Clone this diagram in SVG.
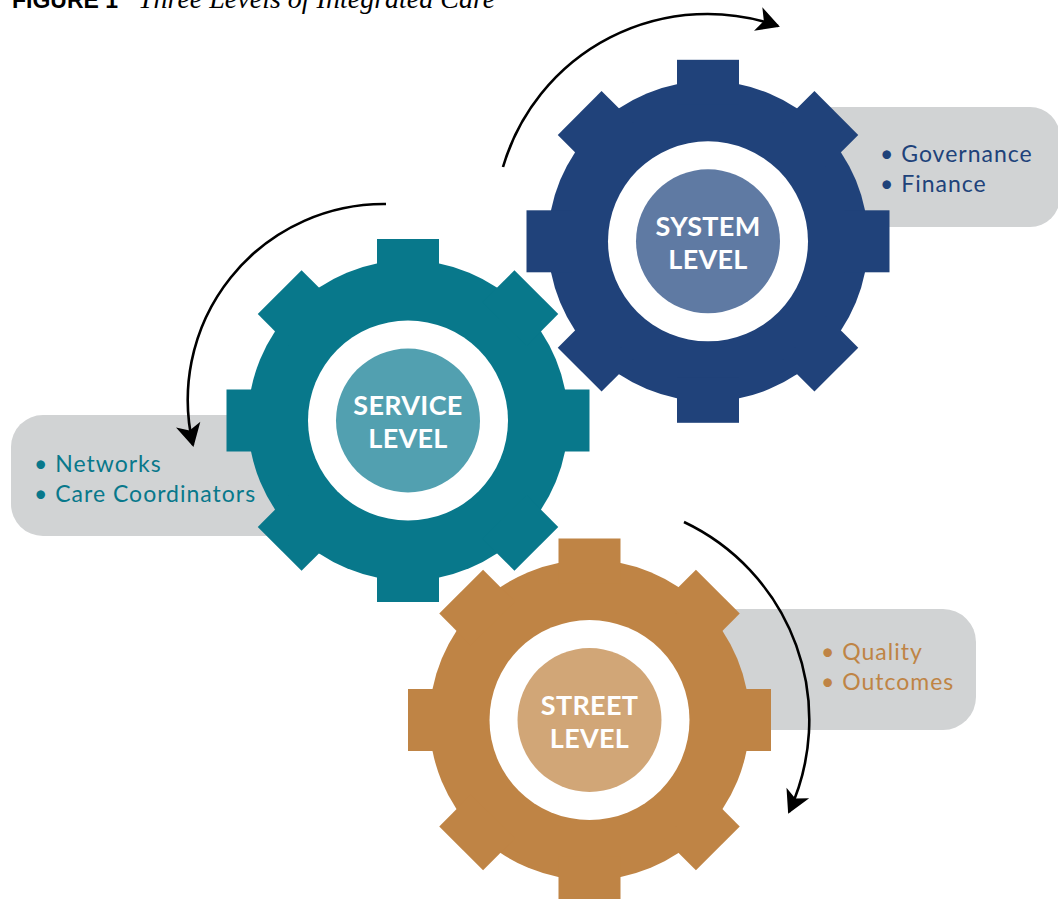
<svg xmlns="http://www.w3.org/2000/svg" xmlns:xlink="http://www.w3.org/1999/xlink" width="1058" height="899" viewBox="0 0 1058 899">
<style>
.box{fill:#d1d3d4}
.lbl{font-family:Lato,"Noto Sans",sans-serif;font-weight:bold;font-size:27px;fill:#ffffff;text-anchor:middle;letter-spacing:0.3px}
.bul{font-family:Lato,"Noto Sans",sans-serif;font-size:23px;letter-spacing:1px}
.arc{fill:none;stroke:#000;stroke-width:2.6}
</style>
<defs>
<g id="gearShape">
<circle r="160"/>
<rect x="-31" y="-181.5" width="62" height="45"/>
<rect x="-31" y="-181.5" width="62" height="45" transform="rotate(45)"/>
<rect x="-31" y="-181.5" width="62" height="45" transform="rotate(90)"/>
<rect x="-31" y="-181.5" width="62" height="45" transform="rotate(135)"/>
<rect x="-31" y="-181.5" width="62" height="45" transform="rotate(180)"/>
<rect x="-31" y="-181.5" width="62" height="45" transform="rotate(225)"/>
<rect x="-31" y="-181.5" width="62" height="45" transform="rotate(270)"/>
<rect x="-31" y="-181.5" width="62" height="45" transform="rotate(315)"/>
<circle r="100" fill="#ffffff"/>
</g>
<marker id="ah" markerUnits="userSpaceOnUse" markerWidth="40" markerHeight="40" viewBox="-30 -20 40 40" refX="0" refY="0" orient="auto">
<path d="M2,0 L-21,-12.5 L-15,0 L-21,12.5 Z" fill="#000"/>
</marker>
</defs>
<rect width="1058" height="899" fill="#ffffff"/>
<g id="title">
<text x="12" y="8" font-family="Liberation Sans, Arial, sans-serif" font-weight="bold" font-size="23" fill="#000">FIGURE 1</text>
<text x="138" y="8" font-family="Liberation Serif, Times New Roman, serif" font-style="italic" font-size="28" fill="#000">Three Levels of Integrated Care</text>
</g>
<g id="boxes">
<rect id="box-system" class="box" x="790" y="107" width="270" height="120" rx="30"/>
<rect id="box-service" class="box" x="11" y="415" width="320" height="121" rx="32"/>
<rect id="box-street" class="box" x="700" y="609" width="276" height="121" rx="33"/>
</g>
<g id="system-level">
<use xlink:href="#gearShape" transform="translate(708,241.3)" fill="#20427a"/>
<circle cx="708" cy="241.3" r="72" fill="#5f7aa3"/>
<text class="lbl" x="708" y="236">SYSTEM</text>
<text class="lbl" x="708" y="268.5">LEVEL</text>
</g>
<g id="service-level">
<use xlink:href="#gearShape" transform="translate(408,420.5)" fill="#08788b"/>
<circle cx="408" cy="420.5" r="72" fill="#52a0b0"/>
<text class="lbl" x="408" y="415">SERVICE</text>
<text class="lbl" x="408" y="447.5">LEVEL</text>
</g>
<g id="street-level">
<use xlink:href="#gearShape" transform="translate(589.5,720)" fill="#bf8445"/>
<circle cx="589.5" cy="720" r="72" fill="#d1a677"/>
<text class="lbl" x="589.5" y="715">STREET</text>
<text class="lbl" x="589.5" y="747.5">LEVEL</text>
</g>
<g id="system-list" class="bul" fill="#20427a">
<text x="880" y="162">• Governance</text>
<text x="880" y="192">• Finance</text>
</g>
<g id="service-list" class="bul" fill="#08788b">
<text x="34" y="472">• Networks</text>
<text x="34" y="501.5">• Care Coordinators</text>
</g>
<g id="street-list" class="bul" fill="#bf8445">
<text x="821" y="660">• Quality</text>
<text x="821" y="689.5">• Outcomes</text>
</g>
<g id="connectors">
<path class="arc" d="M503,167 A213,213 0 0 1 778,26" marker-end="url(#ah)"/>
<path class="arc" d="M386,204 A196,196 0 0 0 193,445" marker-end="url(#ah)"/>
<path class="arc" d="M684,522 A219,219 0 0 1 789,812" marker-end="url(#ah)"/>
</g>
</svg>
